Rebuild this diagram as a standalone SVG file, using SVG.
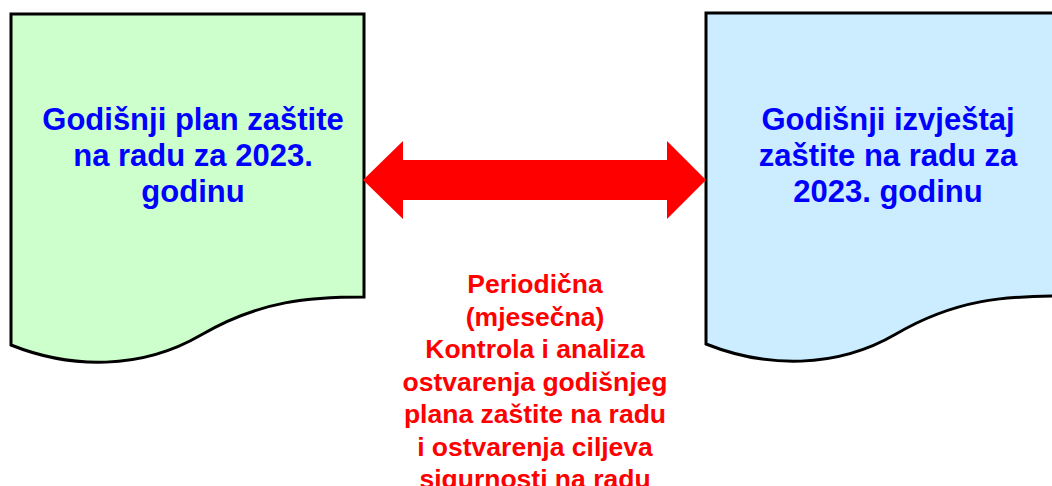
<svg xmlns="http://www.w3.org/2000/svg" width="1052" height="486" viewBox="0 0 1052 486">
  <style>
    .doc { stroke: #000000; stroke-width: 3; stroke-linejoin: miter; }
    .t { font-family: "Liberation Sans", Arial, sans-serif; font-weight: bold; text-anchor: middle; }
    .blue { fill: #0000FF; font-size: 31px; }
    .red { fill: #FF0000; font-size: 26.5px; }
  </style>
  <defs>
    <path id="docShape" d="M0,0 H353 V283 C300,283 250,286 190,321 C130,356 60,355 0,331 Z"/>
  </defs>
  <rect width="1052" height="486" fill="#FFFFFF"/>
  <g id="plan">
    <use href="#docShape" class="doc" fill="#CCFFCC" transform="translate(11,14)"/>
    <text class="t blue" x="193" y="130">Godišnji plan zaštite</text>
    <text class="t blue" x="193" y="166">na radu za 2023.</text>
    <text class="t blue" x="193" y="202">godinu</text>
  </g>
  <g id="izvjestaj">
    <use href="#docShape" class="doc" fill="#CCECFF" transform="translate(706,13)"/>
    <text class="t blue" x="888" y="130">Godišnji izvještaj</text>
    <text class="t blue" x="888" y="166">zaštite na radu za</text>
    <text class="t blue" x="888" y="202">2023. godinu</text>
  </g>
  <g id="connectors">
    <polygon points="363,180 403,141 403,160 667,160 667,141 706,180 667,219 667,200 403,200 403,219" fill="#FF0000"/>
  </g>
  <g id="label">
    <text class="t red" x="535" y="293">Periodična</text>
    <text class="t red" x="535" y="325.5">(mjesečna)</text>
    <text class="t red" x="535" y="358">Kontrola i analiza</text>
    <text class="t red" x="535" y="390.5">ostvarenja godišnjeg</text>
    <text class="t red" x="535" y="423">plana zaštite na radu</text>
    <text class="t red" x="535" y="455.5">i ostvarenja ciljeva</text>
    <text class="t red" x="535" y="488">sigurnosti na radu</text>
  </g>
</svg>
